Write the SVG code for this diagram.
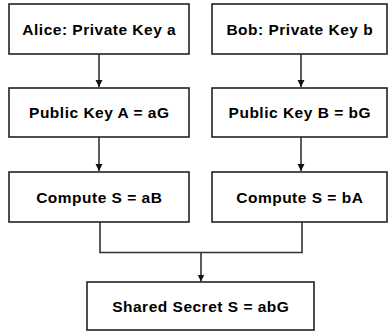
<svg xmlns="http://www.w3.org/2000/svg" width="389" height="336" viewBox="0 0 389 336">
<style>
.box{fill:#fff;stroke:#222;stroke-width:1.6}
.lbl{font-family:"Liberation Sans",Arial,sans-serif;font-weight:bold;font-size:15.5px;letter-spacing:0.5px;fill:#000;text-anchor:middle}
.edge{fill:none;stroke:#333;stroke-width:1.6}
</style>
<defs>
<marker id="ah" markerWidth="8" markerHeight="8" refX="7" refY="4" orient="auto" markerUnits="userSpaceOnUse">
<path d="M0,0.5 L7,4 L0,7.5 Z" fill="#111"/>
</marker>
</defs>
<rect width="389" height="336" fill="#fff"/>
<g id="connectors">
<path class="edge" d="M99,54 V87" marker-end="url(#ah)"/>
<path class="edge" d="M301,54 V87" marker-end="url(#ah)"/>
<path class="edge" d="M99,137 V171" marker-end="url(#ah)"/>
<path class="edge" d="M301,137 V171" marker-end="url(#ah)"/>
<path class="edge" d="M100,222 V252.5 H302 V222"/>
<path class="edge" d="M201,252.5 V281.5" marker-end="url(#ah)"/>
</g>
<g id="alice"><rect class="box" x="9" y="4" width="180" height="50"/><text class="lbl" x="99.3" y="34.5">Alice: Private Key a</text></g>
<g id="bob"><rect class="box" x="212" y="4" width="175" height="50"/><text class="lbl" x="299.8" y="34.5">Bob: Private Key b</text></g>
<g id="pubA"><rect class="box" x="9" y="88" width="180" height="49"/><text class="lbl" x="99.3" y="118">Public Key A = aG</text></g>
<g id="pubB"><rect class="box" x="212" y="88" width="175" height="49"/><text class="lbl" x="299.8" y="118">Public Key B = bG</text></g>
<g id="compA"><rect class="box" x="9" y="172" width="180" height="50"/><text class="lbl" x="99.3" y="202.5">Compute S = aB</text></g>
<g id="compB"><rect class="box" x="212" y="172" width="175" height="50"/><text class="lbl" x="299.8" y="202.5">Compute S = bA</text></g>
<g id="shared"><rect class="box" x="87" y="282" width="227" height="48"/><text class="lbl" x="200.8" y="311.5">Shared Secret S = abG</text></g>
</svg>
